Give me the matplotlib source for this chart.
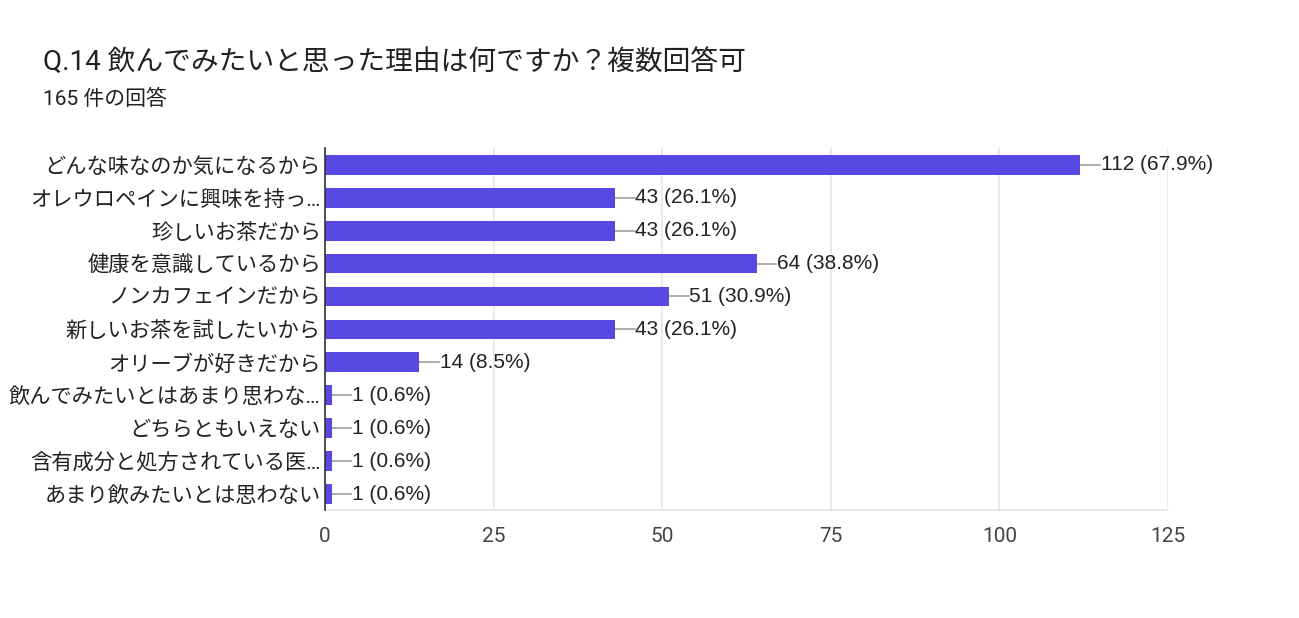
import matplotlib
matplotlib.use("Agg")
import matplotlib.pyplot as plt

plt.rcParams['font.family'] = ['Roboto', 'Noto Sans CJK JP', 'DejaVu Sans']

categories = ["どんな味なのか気になるから", "オレウロペインに興味を持っ…", "珍しいお茶だから",
              "健康を意識しているから", "ノンカフェインだから", "新しいお茶を試したいから",
              "オリーブが好きだから", "飲んでみたいとはあまり思わな…", "どちらともいえない",
              "含有成分と処方されている医…", "あまり飲みたいとは思わない"]
counts = [112, 43, 43, 64, 51, 43, 14, 1, 1, 1, 1]
percents = ["67.9%", "26.1%", "26.1%", "38.8%", "30.9%", "26.1%", "8.5%", "0.6%", "0.6%", "0.6%", "0.6%"]
xticks = [0, 25, 50, 75, 100, 125]

fig = plt.figure(figsize=(12.99, 6.18), dpi=100)
ax = fig.add_axes([0.2502, 0.174, 0.649, 0.586])

y = list(range(len(categories)))
ax.barh(y, counts, height=0.6, color="#5847e0", zorder=3)

for i in range(len(counts)):
    ax.plot([counts[i], counts[i] + 2.9], [i, i], color="#a0a0a0", lw=1.2, zorder=2)
    ax.text(counts[i] + 3.0, i, "%d (%s)" % (counts[i], percents[i]), va="center", ha="left",
            fontsize=15, color="#222222", family=['Liberation Sans', 'DejaVu Sans'])

ax.set_ylim(len(categories) - 0.5, -0.5)
ax.set_xlim(0, 125)
ax.set_xticks(xticks)
ax.set_xticklabels([str(t) for t in xticks], fontsize=15, color="#444444")
ax.set_yticks(y)
ax.set_yticklabels(categories, fontsize=15.3, color="#222222")
ax.tick_params(axis="both", length=0)
ax.tick_params(axis="x", pad=12)
ax.tick_params(axis="y", pad=3)
ax.grid(axis="x", color="#e6e6e6", lw=1.2, zorder=0)
for s in ["top", "right"]:
    ax.spines[s].set_visible(False)
ax.spines["bottom"].set_color("#e6e6e6")
ax.spines["bottom"].set_linewidth(1.2)
ax.spines["left"].set_color("#333333")
ax.spines["left"].set_linewidth(1.2)
ax.spines["left"].set_zorder(4)

fig.text(43 / 1299, 1 - 62 / 618, "Q.14 飲んでみたいと思った理由は何ですか？複数回答可", fontsize=20,
         va="center", ha="left", color="#202124")
fig.text(43 / 1299, 1 - 99 / 618, "165 件の回答", fontsize=15, va="center", ha="left", color="#202124")

fig.savefig("out.png", dpi=100)
